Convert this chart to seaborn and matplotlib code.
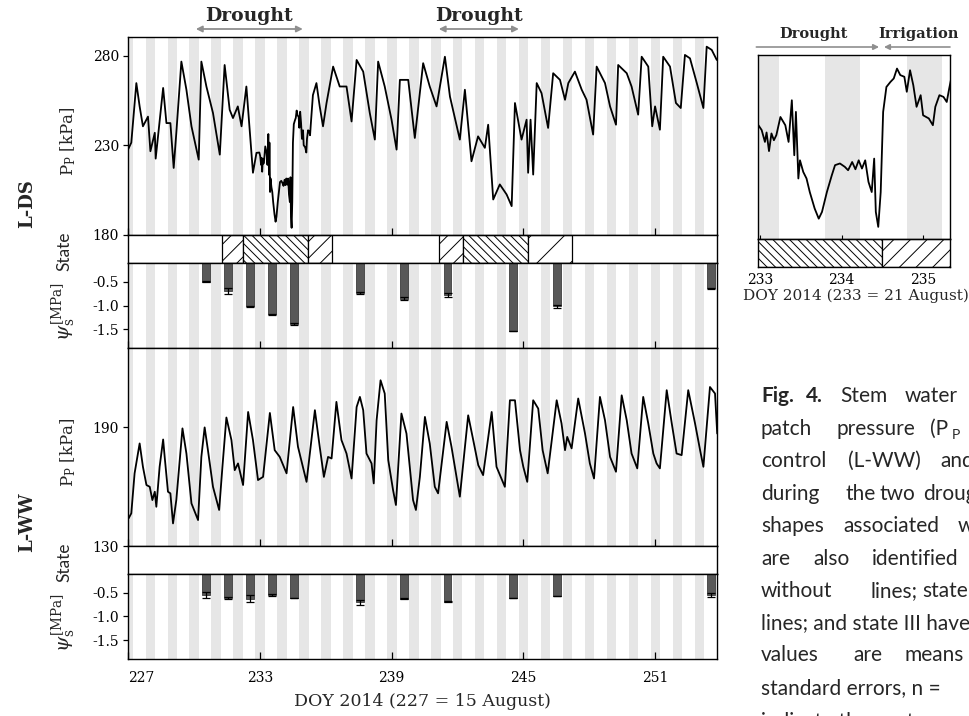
import matplotlib
matplotlib.use('Agg')
import matplotlib.pyplot as plt
import seaborn as sns

# ---------------- data ----------------
# L-DS patch pressure (kPa) vs DOY 2014
ds_doy = [227.00, 227.15, 227.38, 227.53, 227.68, 227.91, 228.02, 228.22, 228.26, 228.60, 228.75, 228.93,
          229.08, 229.20, 229.43, 229.66, 229.89, 230.22, 230.34, 230.57, 230.87, 231.18, 231.40, 231.63,
          231.78, 232.00, 232.17, 232.39, 232.51, 232.69, 232.85,
          232.98, 233.02, 233.06, 233.08, 233.11, 233.14, 233.17, 233.20, 233.25, 233.31, 233.35, 233.39,
          233.42, 233.44, 233.47, 233.49, 233.53, 233.57, 233.61, 233.67, 233.72, 233.76, 233.82, 233.88,
          233.92, 233.98, 234.04, 234.08, 234.13, 234.17, 234.21, 234.25, 234.29, 234.33, 234.37, 234.40,
          234.42, 234.45, 234.48, 234.51, 234.55, 234.60, 234.64, 234.68, 234.72, 234.77, 234.80, 234.84,
          234.88, 234.92, 234.97, 235.00, 235.07, 235.12, 235.15, 235.20, 235.25, 235.29, 235.32,
          235.42, 235.58, 235.73, 235.88, 236.04, 236.34, 236.64, 236.95, 237.18, 237.41, 237.71, 238.01,
          238.24, 238.39, 238.69, 239.00, 239.23, 239.38, 239.76, 240.06, 240.44, 240.74, 241.05, 241.43,
          241.66, 242.11, 242.34, 242.64, 242.94, 243.25, 243.40, 243.63, 243.93, 244.24, 244.47, 244.62,
          244.92, 245.15, 245.22, 245.33, 245.45, 245.61, 245.83, 246.13, 246.36, 246.67, 246.90, 247.05,
          247.35, 247.66, 247.88, 248.18, 248.34, 248.72, 248.95, 249.22, 249.32, 249.71, 249.93, 250.23,
          250.39, 250.69, 250.87, 251.00, 251.22, 251.37, 251.68, 251.95, 252.17, 252.36, 252.59, 252.90,
          253.20, 253.35, 253.58, 253.81]
ds_pp = [227.6, 231.5, 264.7, 251.7, 240.6, 246.0, 226.7, 237.0, 222.6, 262.0, 242.4, 242.4,
         217.4, 236.9, 276.7, 261.0, 240.6, 222.0, 276.7, 262.8, 248.0, 224.8, 274.8, 249.8,
         245.2, 251.7, 240.6, 262.8, 243.3, 214.7, 225.8,
         226.0, 224.0, 219.1, 223.0, 215.3, 222.6, 219.8, 221.9, 229.4, 226.0, 219.1, 236.3,
         213.6, 231.5, 204.0, 211.5, 206.7, 204.0, 198.4, 191.6, 187.4, 190.2, 198.4, 205.3,
         209.5, 210.2, 208.8, 207.4, 210.8, 207.8, 211.5, 208.1, 211.5, 202.6, 198.4, 212.2,
         190.2, 184.0, 198.4, 231.5, 241.8, 243.9, 245.3, 249.4, 246.7, 246.0, 239.8, 248.7,
         242.5, 233.6, 238.4, 230.1, 228.8, 226.0, 233.6, 238.4, 237.7, 235.6, 241.1,
         258.0, 264.7, 251.7, 240.6, 253.6, 273.9, 262.8, 262.8, 243.3, 277.6, 271.1, 248.0,
         233.2, 276.7, 262.8, 244.3, 227.6, 266.5, 266.5, 234.1, 275.8, 262.8, 251.7, 279.4,
         257.2, 233.2, 261.0, 221.1, 235.0, 228.6, 241.5, 199.8, 208.2, 202.6, 196.1, 253.6,
         233.2, 244.3, 214.7, 244.3, 213.7, 264.7, 259.1, 239.7, 270.2, 266.5, 255.4, 264.7,
         271.1, 261.0, 255.4, 236.0, 273.9, 264.7, 251.7, 241.5, 274.8, 270.2, 262.8, 247.1,
         279.4, 273.9, 240.6, 251.7, 238.7, 279.4, 273.9, 253.6, 250.8, 280.4, 278.5, 264.7,
         250.8, 285.0, 283.2, 277.6]

# L-WW patch pressure (kPa)
ww_doy = [227.03, 227.15, 227.30, 227.53, 227.68, 227.84, 227.99, 228.11, 228.22, 228.29, 228.44, 228.60,
          228.67, 228.82, 228.93, 229.05, 229.20, 229.48, 229.66, 229.89, 230.19, 230.34, 230.49, 230.64,
          230.87, 231.15, 231.30, 231.48, 231.71, 231.86, 232.01, 232.24, 232.47, 232.69, 232.92, 233.15,
          233.46, 233.68, 233.91, 234.22, 234.52, 234.74, 235.13, 235.51, 235.73, 235.92, 236.11, 236.27,
          236.49, 236.72, 236.95, 237.18, 237.41, 237.56, 237.71, 237.86, 238.09, 238.19, 238.32, 238.50,
          238.69, 238.85, 239.07, 239.20, 239.45, 239.68, 239.98, 240.11, 240.29, 240.52, 240.74, 240.97,
          241.12, 241.51, 241.73, 242.11, 242.49, 242.72, 242.95, 243.17, 243.56, 243.78, 244.16, 244.39,
          244.62, 244.85, 245.00, 245.18, 245.45, 245.68, 245.88, 246.11, 246.52, 246.74, 246.90, 247.00,
          247.20, 247.50, 247.81, 248.03, 248.22, 248.49, 248.72, 248.95, 249.22, 249.48, 249.71, 249.93,
          250.19, 250.46, 250.69, 250.92, 251.07, 251.22, 251.53, 251.76, 251.98, 252.21, 252.51, 252.82,
          253.05, 253.20, 253.50, 253.73, 253.83]
ww_pp = [144.0, 146.5, 166.7, 181.8, 170.0, 160.8, 159.9, 153.2, 157.4, 149.8, 170.0, 183.8,
         175.0, 157.4, 156.6, 141.4, 153.2, 189.4, 176.7, 151.5, 143.1, 175.0, 189.9, 178.4,
         159.9, 148.2, 170.0, 194.9, 183.5, 168.3, 171.7, 160.8, 197.7, 183.5, 163.3, 164.9,
         197.2, 178.4, 175.0, 166.7, 200.2, 180.1, 162.4, 198.6, 180.1, 164.9, 175.0, 174.2,
         202.8, 183.5, 176.7, 164.1, 200.2, 205.3, 198.6, 176.7, 171.7, 161.6, 193.5, 213.7,
         207.0, 173.4, 158.2, 150.7, 196.9, 186.8, 153.2, 148.2, 164.9, 195.2, 181.8, 159.9,
         156.6, 192.7, 180.1, 154.9, 196.0, 183.5, 170.8, 165.8, 197.7, 170.0, 159.9, 203.6,
         203.6, 178.4, 170.0, 162.4, 203.6, 199.4, 178.4, 166.7, 203.6, 191.9, 178.4, 185.1,
         179.3, 204.5, 186.8, 171.7, 164.1, 205.3, 193.5, 175.0, 167.5, 206.1, 193.5, 176.7,
         169.2, 205.3, 191.9, 176.7, 171.7, 169.2, 208.7, 191.9, 176.7, 175.9, 208.7, 191.9,
         178.4, 170.0, 210.3, 207.0, 186.8]

# Stem water potential (MPa), mean and standard error
psi_doy = [230.55, 231.55, 232.55, 233.55, 234.55, 237.55, 239.55, 241.55, 244.55, 246.55, 253.55]
psi_ds = [-0.50, -0.70, -1.02, -1.19, -1.39, -0.73, -0.86, -0.78, -1.55, -1.02, -0.64]
psi_ds_err = [0.01, 0.06, 0.02, 0.02, 0.02, 0.02, 0.03, 0.04, 0.0, 0.04, 0.01]
psi_ww = [-0.55, -0.60, -0.62, -0.55, -0.60, -0.70, -0.62, -0.69, -0.60, -0.57, -0.55]
psi_ww_err = [0.06, 0.02, 0.07, 0.02, 0.0, 0.05, 0.01, 0.01, 0.0, 0.0, 0.04]

# Patch-pressure curve states of L-DS (state II / III periods)
state_start = [231.27, 232.23, 235.19, 241.15, 242.25, 245.20]
state_end = [232.23, 235.19, 236.28, 242.25, 245.20, 247.20]
state_name = ['II', 'III', 'II', 'II', 'III', 'II']
state_hatch = ['//', '\\\\\\\\', '//', '//', '\\\\\\\\', '/']

# inset states
inset_state_start = [232.90, 234.50]
inset_state_end = [234.50, 235.40]
inset_state_hatch = ['\\\\\\\\', '//']

drought_periods = [(230.09, 234.96), (241.15, 244.80)]
xtick_vals = [227, 233, 239, 245, 251]
inset_ticks = [233, 234, 235]

caption_lines = [
    [("Fig.", 761, 'bold'), ("4.", 806, 'bold'), ("Stem", 840, 'normal'), ("water", 905, 'normal')],
    [("patch", 761, 'normal'), ("pressure", 836, 'normal'), ("(P", 930, 'normal')],
    [("control", 761, 'normal'), ("(L-WW)", 848, 'normal'), ("and", 940, 'normal')],
    [("during", 761, 'normal'), ("the", 846, 'normal'), ("two", 879, 'normal'), ("drought", 923, 'normal')],
    [("shapes", 761, 'normal'), ("associated", 843, 'normal'), ("with", 958, 'normal')],
    [("are", 761, 'normal'), ("also", 813, 'normal'), ("identified", 872, 'normal')],
    [("without", 761, 'normal'), ("lines;", 870, 'normal'), ("state", 922, 'normal')],
    [("lines; and state III have", 761, 'normal')],
    [("values", 761, 'normal'), ("are", 853, 'normal'), ("means", 905, 'normal')],
    [("standard errors, n =", 761, 'normal')],
    [("indicate the posture", 761, 'normal')],
]
caption_baselines = [402, 435, 467, 500, 532, 565, 597, 629, 661, 694, 728]

# ---------------- style ----------------
sns.set_theme(style='ticks')
plt.rcParams['font.family'] = ['DejaVu Serif']
plt.rcParams['mathtext.fontset'] = 'dejavuserif'
plt.rcParams['axes.unicode_minus'] = False
plt.rcParams['hatch.linewidth'] = 0.7
plt.rcParams['axes.edgecolor'] = 'black'
plt.rcParams['axes.linewidth'] = 1.0
plt.rcParams['xtick.color'] = 'black'
plt.rcParams['ytick.color'] = 'black'

W, H = 969, 716
fig = plt.figure(figsize=(W / 100, H / 100), dpi=100)
fig.patch.set_facecolor('white')


def rect(x0, y0, x1, y1):
    return [x0 / W, 1 - y1 / H, (x1 - x0) / W, (y1 - y0) / H]


def fx(x):
    return x / W


def fy(y):
    return 1 - y / H


NIGHT = '#e6e6e6'
XMIN, XMAX = 227.0, 253.82


def night(ax, lo, hi):
    for d in range(int(lo) - 1, int(hi) + 1):
        ax.axvspan(d + 0.80, d + 1.23, color=NIGHT, lw=0, zorder=0)


def pp_panel(r, doy, pp, ylim, yticks):
    ax = fig.add_axes(r)
    night(ax, XMIN, XMAX)
    sns.lineplot(x=doy, y=pp, ax=ax, color='black', lw=1.3, estimator=None, sort=False, legend=False)
    ax.set_xlim(XMIN, XMAX)
    ax.set_ylim(*ylim)
    ax.set_yticks(yticks)
    ax.set_yticklabels([str(v) for v in yticks])
    ax.set_xticks(xtick_vals)
    ax.set_xticklabels([])
    ax.tick_params(axis='x', direction='in', length=5, width=0.9, bottom=True)
    ax.tick_params(axis='y', direction='out', length=3.5, width=0.9, pad=3, labelsize=10, left=True)
    ax.set_xlabel('')
    ax.set_ylabel('')
    return ax


def state_panel(r, starts, ends, hatches):
    ax = fig.add_axes(r)
    ax.set_facecolor('white')
    for s, e, h in zip(starts, ends, hatches):
        ax.axvspan(s, e, facecolor='white', edgecolor='black', hatch=h, lw=0.9)
    ax.set_xlim(XMIN, XMAX)
    ax.set_ylim(0, 1)
    ax.set_xticks([])
    ax.set_yticks([])
    return ax


def psi_panel(r, psi, err, show_labels):
    ax = fig.add_axes(r)
    night(ax, XMIN, XMAX)
    ax.bar(psi_doy, psi, width=0.36, color='#585858', edgecolor='#3c3c3c', lw=0.6, zorder=2)
    ax.errorbar(psi_doy, psi, yerr=err, fmt='none', ecolor='black', elinewidth=0.9,
                capsize=3, capthick=0.9, zorder=3)
    ax.set_xlim(XMIN, XMAX)
    ax.set_ylim(-1.9, -0.1)
    ax.set_yticks([-0.5, -1.0, -1.5])
    ax.set_yticklabels(['-0.5', '-1.0', '-1.5'])
    ax.set_xticks(xtick_vals)
    if show_labels:
        labels = ax.set_xticklabels([str(v) for v in xtick_vals])
        labels[0].set_horizontalalignment('left')
    else:
        ax.set_xticklabels([])
    ax.tick_params(axis='x', direction='in', length=5, width=0.9, bottom=True, pad=9, labelsize=10)
    ax.tick_params(axis='y', direction='out', length=3.5, width=0.9, pad=3, labelsize=10, left=True)
    return ax


# ---------------- main panels ----------------
ax_ds = pp_panel(rect(128, 37, 717, 235), ds_doy, ds_pp, (180, 290.4), [180, 230, 280])
state_panel(rect(128, 235, 717, 263), state_start, state_end, state_hatch)
psi_panel(rect(128, 263, 717, 348), psi_ds, psi_ds_err, False)

pp_panel(rect(128, 348, 717, 546), ww_doy, ww_pp, (130, 230), [130, 190])
state_panel(rect(128, 546, 717, 574), [], [], [])
psi_panel(rect(128, 574, 717, 659), psi_ww, psi_ww_err, True)

fig.text(fx(422), fy(701), 'DOY 2014 (227 = 15 August)', ha='center', va='center', fontsize=12.5)

# row labels
for ytxt, name in [(204, 'L-DS'), (522, 'L-WW')]:
    fig.text(fx(27), fy(ytxt), name, rotation=90, ha='center', va='center', fontsize=13, fontweight='bold')
for off in [0, 311]:
    fig.text(fx(68), fy(141 + off), r'P$_\mathregular{P}$ [kPa]', rotation=90, ha='center', va='center', fontsize=12)
    fig.text(fx(64), fy(251 + off), 'State', rotation=90, ha='center', va='center', fontsize=12.5,
             family=['Lato', 'DejaVu Sans'])
    fig.text(fx(64), fy(312 + off), r'$\psi_{\mathrm{s}}^{\mathrm{[MPa]}}$', rotation=90, ha='center', va='center',
             fontsize=14)

# drought annotations
for a, b in drought_periods:
    ax_ds.annotate('', xy=(b, fy(29)), xytext=(a, fy(29)), xycoords=('data', 'figure fraction'),
                   textcoords=('data', 'figure fraction'), annotation_clip=False,
                   arrowprops=dict(arrowstyle='<|-|>', color='#8f8f8f', lw=1.3, mutation_scale=9,
                                   shrinkA=0, shrinkB=0))
    ax_ds.annotate('Drought', xy=((a + b) / 2, fy(16)), xycoords=('data', 'figure fraction'),
                   ha='center', va='center', fontsize=13.5, fontweight='bold', annotation_clip=False)

# ---------------- inset ----------------
IX0, IX1 = 232.975, 235.33
ax_in = fig.add_axes(rect(758, 55, 950, 239))
night(ax_in, IX0, IX1)
sns.lineplot(x=ds_doy, y=ds_pp, ax=ax_in, color='black', lw=1.3, estimator=None, sort=False, legend=False)
ax_in.set_xlim(IX0, IX1)
ax_in.set_ylim(179, 255)
ax_in.set_yticks([])
ax_in.set_xticks(inset_ticks)
ax_in.set_xticklabels([])
ax_in.tick_params(axis='x', direction='in', length=3, width=0.8, bottom=True)
ax_in.set_xlabel('')
ax_in.set_ylabel('')

ax_in_st = fig.add_axes(rect(758, 239, 950, 267))
for s, e, h in zip(inset_state_start, inset_state_end, inset_state_hatch):
    ax_in_st.axvspan(s, e, facecolor='white', edgecolor='black', hatch=h, lw=0.9)
ax_in_st.set_xlim(IX0, IX1)
ax_in_st.set_ylim(0, 1)
ax_in_st.set_yticks([])
ax_in_st.set_xticks(inset_ticks)
ax_in_st.set_xticklabels([str(v) for v in inset_ticks])
ax_in_st.tick_params(axis='x', length=0, pad=4, labelsize=10)
fig.text(fx(856), fy(296), 'DOY 2014 (233 = 21 August)', ha='center', va='center', fontsize=11)

ax_in.annotate('', xy=(234.46, fy(47)), xytext=(IX0 - 0.02, fy(47)), xycoords=('data', 'figure fraction'),
               textcoords=('data', 'figure fraction'), annotation_clip=False,
               arrowprops=dict(arrowstyle='-|>', color='#8f8f8f', lw=1.2, mutation_scale=8, shrinkA=0, shrinkB=0))
ax_in.annotate('', xy=(234.52, fy(47)), xytext=(IX1, fy(47)), xycoords=('data', 'figure fraction'),
               textcoords=('data', 'figure fraction'), annotation_clip=False,
               arrowprops=dict(arrowstyle='-|>', color='#8f8f8f', lw=1.2, mutation_scale=8, shrinkA=0, shrinkB=0))
ax_in.annotate('Drought', xy=(233.66, fy(34)), xycoords=('data', 'figure fraction'), ha='center', va='center',
               fontsize=10.5, fontweight='bold', annotation_clip=False)
ax_in.annotate('Irrigation', xy=(234.95, fy(34)), xycoords=('data', 'figure fraction'), ha='center', va='center',
               fontsize=10.5, fontweight='bold', annotation_clip=False)

# ---------------- caption (cut by the page edge, as in the reference) ----------------
for words, yb in zip(caption_lines, caption_baselines):
    for w, x, wt in words:
        fig.text(fx(x), fy(yb), w, ha='left', va='baseline', fontsize=15, fontweight=wt,
                 family=['Lato', 'DejaVu Sans'])
fig.text(fx(952), fy(439), 'P', ha='left', va='baseline', fontsize=10, family=['Lato', 'DejaVu Sans'])

fig.savefig('out.png', dpi=100)
